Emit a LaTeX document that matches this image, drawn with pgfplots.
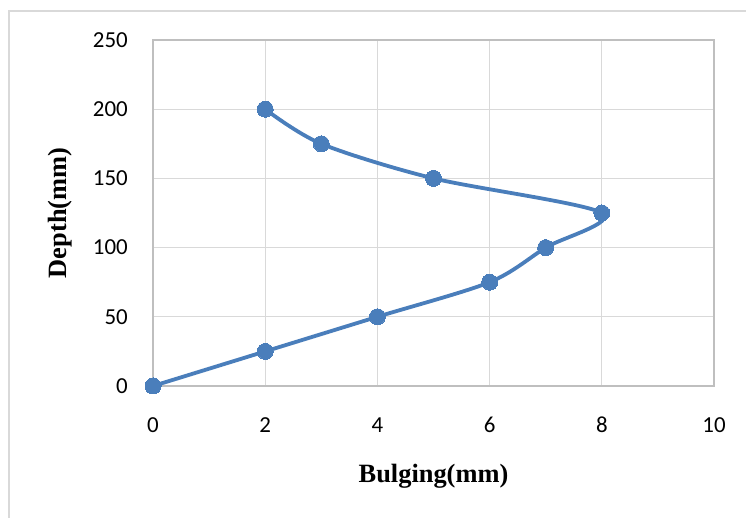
\documentclass[border=0pt]{standalone}
\usepackage{pgfplots}
\pgfplotsset{compat=1.18}
\usepackage{fontspec}
\setmainfont{Liberation Serif}
\newfontfamily\carlito{Carlito}
\definecolor{ser}{HTML}{4A7EBB}
\definecolor{gridc}{HTML}{D9D9D9}
\definecolor{axc}{HTML}{BFBFBF}
\begin{document}
\begin{tikzpicture}[x=1bp,y=1bp]
\useasboundingbox (0,0) rectangle (746,518);
\draw[color=gridc, line width=1.5bp] (9,0) -- (9,507) -- (746,507);
\begin{axis}[
  at={(153bp,132bp)}, anchor=south west,
  scale only axis, width=561bp, height=346bp,
  xmin=0, xmax=10, ymin=0, ymax=250,
  xtick={0,2,...,10}, ytick={0,50,...,250},
  grid=major,
  grid style={color=gridc, line width=1.3bp},
  axis line style={color=axc, line width=1.3bp},
  tick style={draw=none},
  /pgf/number format/assume math mode=true,
  ticklabel style={font=\carlito\fontsize{23}{27}\selectfont, inner sep=0pt},
  xticklabel style={anchor=center, yshift=-39bp},
  yticklabel style={anchor=east, xshift=-25bp},
  xlabel={Bulging(mm)},
  ylabel={Depth(mm)},
  label style={font=\fontsize{26.5}{30}\selectfont\bfseries},
  xlabel style={at={(axis description cs:0.5,0)}, anchor=center, yshift=-90bp},
  ylabel style={at={(axis description cs:0,0.5)}, anchor=center, xshift=0bp, yshift=93bp},
]
\addplot[color=ser, line width=3.8bp, smooth, tension=0.5, mark=*, mark size=8bp, mark options={fill=ser, draw=ser, line width=0pt}]
coordinates {(0,0) (2,25) (4,50) (6,75) (7,100) (8,125) (5,150) (3,175) (2,200)};
\end{axis}
\end{tikzpicture}
\end{document}
